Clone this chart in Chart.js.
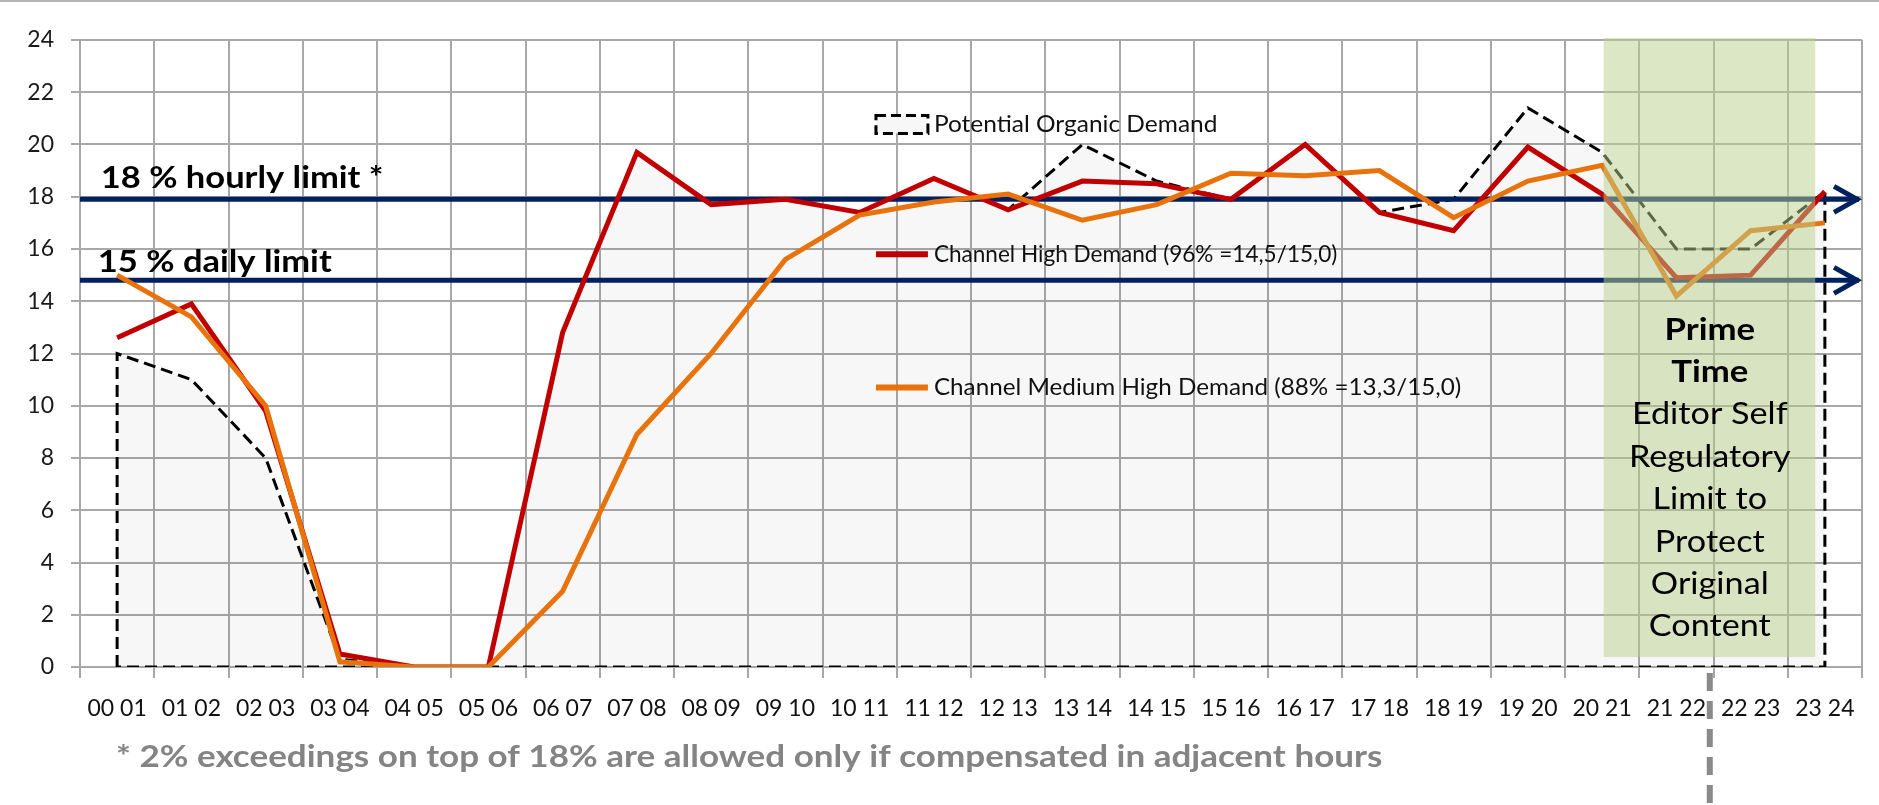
<!DOCTYPE html>
<html>
<head>
<meta charset="utf-8">
<script src="https://cdn.jsdelivr.net/npm/chart.js@4.4.1/dist/chart.umd.min.js"></script>
<style>
  html, body { margin: 0; padding: 0; background: #fff; }
  #wrap { width: 1879px; height: 805px; }
</style>
</head>
<body>
<div id="wrap"><canvas id="chart" width="1879" height="805"></canvas></div>
<script>
// hour slots on the x axis
const hourLabels = ['00 01', '01 02', '02 03', '03 04', '04 05', '05 06',
                    '06 07', '07 08', '08 09', '09 10', '10 11', '11 12',
                    '12 13', '13 14', '14 15', '15 16', '16 17', '17 18',
                    '18 19', '19 20', '20 21', '21 22', '22 23', '23 24'];

// series values (% per hour)
const organicDemand = [12.0, 11.0, 8.0, 0.3, 0, 0,
                       12.8, 19.7, 17.7, 17.9, 17.4, 18.7,
                       17.5, 20.0, 18.6, 17.9, 20.0, 17.4,
                       17.9, 21.4, 19.7, 16.0, 16.0, 18.2];
const highDemand = [12.6, 13.9, 9.8, 0.5, 0, 0,
                    12.8, 19.7, 17.7, 17.9, 17.4, 18.7,
                    17.5, 18.6, 18.5, 17.9, 20.0, 17.4,
                    16.7, 19.9, 18.1, 14.9, 15.0, 18.2];
const mediumDemand = [15.0, 13.4, 10.0, 0.2, 0, 0,
                      2.9, 8.9, 12.0, 15.6, 17.3, 17.8,
                      18.1, 17.1, 17.7, 18.9, 18.8, 19.0,
                      17.2, 18.6, 19.2, 14.2, 16.7, 17.0];

const seriesNames = ['Potential Organic Demand',
                     'Channel High Demand (96% =14,5/15,0)',
                     'Channel Medium High Demand (88% =13,3/15,0)'];

// the two limit lines
const limitValues = [17.9, 14.8];
const limitTexts = ['18 % hourly limit *', '15 % daily limit'];

const primeTimeText = ['Prime', 'Time', 'Editor Self', 'Regulatory',
                       'Limit to', 'Protect', 'Original', 'Content'];
const footnote = '* 2% exceedings on top of 18% are allowed only if compensated in adjacent hours';

const NAVY = '#002060';
const RED = '#c00000';
const ORANGE = '#e8720c';
const GRID = '#a8a8a8';
const FONT = 'Lato';

const toPoints = arr => arr.map((v, i) => ({ x: i + 0.5, y: v }));
const lastX = hourLabels.length - 0.5;

// outline of the organic demand area (closed along the baseline)
const organicOutline = [{ x: 0.5, y: 0 }].concat(toPoints(organicDemand),
    [{ x: lastX, y: 0 }, { x: 0.5, y: 0 }]);

const limitDatasets = limitValues.map(v => ({
    label: 'limit ' + v,
    data: [{ x: 0, y: v }, { x: hourLabels.length - 0.04, y: v }],
    borderColor: NAVY,
    borderWidth: 5,
    fill: false,
    order: 3
}));

// the source picture has slightly wide lettering, so text is stretched a bit
function wideText(ctx, text, x, y, font, align, sx) {
    ctx.save();
    ctx.font = font;
    ctx.textAlign = align;
    ctx.textBaseline = 'middle';
    ctx.translate(x, y);
    ctx.scale(sx, 1);
    ctx.fillText(text, 0, 0);
    ctx.restore();
}

const overlay = {
    id: 'overlay',
    afterDatasetsDraw(chart) {
        const { ctx, scales: { x, y } } = chart;
        ctx.save();

        // arrow heads at the end of the limit lines
        ctx.strokeStyle = NAVY;
        ctx.lineWidth = 5;
        ctx.lineJoin = 'miter';
        limitValues.forEach(v => {
            const tx = x.getPixelForValue(hourLabels.length - 0.04);
            const ty = y.getPixelForValue(v);
            ctx.beginPath();
            ctx.moveTo(tx - 25, ty - 13);
            ctx.lineTo(tx - 2, ty);
            ctx.lineTo(tx - 25, ty + 13);
            ctx.stroke();
        });

        // prime time band
        const bx0 = x.getPixelForValue(20.52), bx1 = x.getPixelForValue(23.37);
        const by0 = chart.chartArea.top - 2, by1 = y.getPixelForValue(0.38);
        ctx.fillStyle = 'rgba(186,208,140,0.5)';
        ctx.fillRect(bx0, by0, bx1 - bx0, by1 - by0);

        ctx.fillStyle = '#000';
        const cx = x.getPixelForValue(21.95);
        let ly = y.getPixelForValue(12.9);
        primeTimeText.forEach((t, i) => {
            if (i < 2) wideText(ctx, t, cx, ly, 'bold 31px ' + FONT, 'center', 1.12);
            else wideText(ctx, t, cx, ly, '30px ' + FONT, 'center', 1.14);
            ly += 42.4;
        });

        // in-plot legend entries
        const legendY = [20.77, 15.8, 10.7];
        const legendStretch = [1.02, 0.94, 1.01];
        const lx0 = x.getPixelForValue(10.72), lx1 = x.getPixelForValue(11.42);
        const tx = x.getPixelForValue(11.5);
        legendY.forEach((v, i) => {
            const py = y.getPixelForValue(v);
            if (i === 0) {
                ctx.fillStyle = '#f7f7f7';
                ctx.fillRect(lx0, py - 9, lx1 - lx0, 18);
                ctx.strokeStyle = '#000';
                ctx.lineWidth = 3;
                ctx.setLineDash([10, 5]);
                ctx.strokeRect(lx0, py - 9, lx1 - lx0, 18);
                ctx.setLineDash([]);
            } else {
                ctx.strokeStyle = i === 1 ? RED : ORANGE;
                ctx.lineWidth = 6;
                ctx.beginPath();
                ctx.moveTo(lx0, py);
                ctx.lineTo(lx1, py);
                ctx.stroke();
            }
            ctx.fillStyle = '#111';
            wideText(ctx, seriesNames[i], tx, py, '24px ' + FONT, 'left', legendStretch[i]);
        });

        // limit labels
        ctx.fillStyle = '#000';
        wideText(ctx, limitTexts[0], x.getPixelForValue(0.28), y.getPixelForValue(18.7),
                 'bold 30px ' + FONT, 'left', 1.15);
        wideText(ctx, limitTexts[1], x.getPixelForValue(0.24), y.getPixelForValue(15.5),
                 'bold 30px ' + FONT, 'left', 1.15);
        ctx.restore();
    },
    afterDraw(chart) {
        const { ctx, scales: { x, y } } = chart;
        ctx.save();
        // top border of the picture
        ctx.fillStyle = '#b4b4b4';
        ctx.fillRect(0, 0, chart.width, 2);

        // footnote
        ctx.fillStyle = '#848484';
        wideText(ctx, footnote, 116, 757, 'bold 31px ' + FONT, 'left', 1.13);

        // grey connector below the prime time band
        const cx = x.getPixelForValue(21.95);
        ctx.strokeStyle = '#8a8a8a';
        ctx.lineWidth = 6;
        ctx.setLineDash([18, 10]);
        ctx.beginPath();
        ctx.moveTo(cx, y.getPixelForValue(0) + 6);
        ctx.lineTo(cx, chart.height);
        ctx.stroke();
        ctx.restore();
    }
};

const ctx = document.getElementById('chart').getContext('2d');
new Chart(ctx, {
    type: 'line',
    data: {
        datasets: [{
            label: seriesNames[2],
            data: toPoints(mediumDemand),
            borderColor: ORANGE,
            borderWidth: 5,
            fill: false,
            order: 1
        }, {
            label: seriesNames[1],
            data: toPoints(highDemand),
            borderColor: RED,
            borderWidth: 5,
            fill: false,
            order: 2
        }].concat(limitDatasets, [{
            label: seriesNames[0],
            data: organicOutline,
            borderColor: '#000',
            borderWidth: 3,
            borderDash: [12, 6],
            fill: false,
            order: 4
        }, {
            label: 'organic area',
            data: toPoints(organicDemand),
            borderWidth: 0,
            borderColor: 'rgba(0,0,0,0)',
            backgroundColor: 'rgba(0,0,0,0.032)',
            fill: 'origin',
            order: 5
        }])
    },
    options: {
        responsive: false,
        animation: false,
        layout: { padding: { left: 0, right: 13, top: 40, bottom: 0 } },
        elements: { point: { radius: 0 }, line: { tension: 0 } },
        plugins: { legend: { display: false }, tooltip: { enabled: false } },
        scales: {
            x: {
                type: 'linear',
                min: 0,
                max: hourLabels.length,
                afterFit: s => { s.height = 138; },
                border: { color: GRID, width: 2 },
                grid: {
                    lineWidth: 2,
                    tickLength: 11,
                    color: c => (c.tick && c.tick.value % 1 !== 0) ? 'rgba(0,0,0,0)' : GRID
                },
                ticks: {
                    stepSize: 0.5,
                    autoSkip: false,
                    maxRotation: 0,
                    minRotation: 0,
                    padding: 17,
                    color: '#111',
                    font: { family: FONT, size: 23 },
                    callback: v => (v % 1 === 0.5 ? hourLabels[Math.floor(v)] : '')
                }
            },
            y: {
                min: 0,
                max: 24,
                afterFit: s => { s.width = 80; },
                border: { color: GRID, width: 2 },
                grid: { color: GRID, lineWidth: 2, tickLength: 9 },
                ticks: {
                    stepSize: 2,
                    padding: 17,
                    color: '#1a1a1a',
                    font: { family: FONT, size: 23 }
                }
            }
        }
    },
    plugins: [overlay]
});
</script>
</body>
</html>
